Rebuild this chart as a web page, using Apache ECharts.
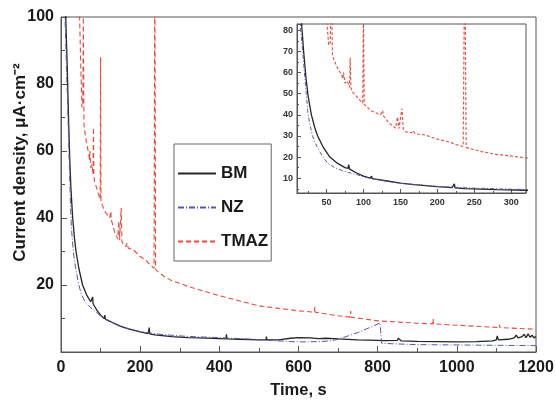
<!DOCTYPE html>
<html>
<head>
<meta charset="utf-8">
<script src="https://cdn.jsdelivr.net/npm/echarts@6/dist/echarts.min.js"></script>
<style>
  html, body { margin: 0; padding: 0; background: #fff; }
  #main { width: 556px; height: 402px; }
</style>
</head>
<body>
<div id="main"></div>
<script>
// time, s
var bmT = [8, 12, 16, 19, 22, 25, 29.5, 34, 38, 45, 54.5, 65, 75, 79, 80, 81, 90, 100, 109, 111, 112, 130, 150, 168, 200, 220, 223, 224, 237, 280, 320, 350, 400, 417, 418, 419, 450, 500, 518, 519, 520, 550, 580, 600, 630, 650, 670, 700, 750, 800, 820, 850, 852, 860, 900, 950, 1000, 1050, 1090, 1100, 1102, 1105, 1130, 1145, 1150, 1155, 1165, 1170, 1175, 1180, 1185, 1190, 1195, 1200];
var bmI = [115, 100, 84, 70, 58, 49, 40, 34, 30, 25, 20, 17, 15, 14.7, 16.4, 14.4, 12.6, 11, 10, 11, 9.8, 8.8, 7.7, 7, 6, 5.5, 7.3, 5.4, 5.1, 4.6, 4.3, 4.2, 4.0, 3.9, 5.3, 3.9, 3.8, 3.6, 3.6, 4.6, 3.6, 3.6, 4.1, 4.3, 4.2, 4.0, 4.1, 3.9, 3.6, 3.5, 3.4, 3.5, 4.1, 3.3, 3.2, 3.1, 3.0, 3.1, 3.3, 3.6, 4.8, 3.6, 3.8, 4.2, 5.0, 4.2, 4.6, 5.3, 4.3, 5.4, 4.4, 5.0, 4.2, 4.7];

var nzT = [5, 10, 14, 17.7, 20, 22.5, 24.5, 27, 31, 37, 45, 52, 61, 70, 80, 90, 102, 120, 150, 200, 250, 300, 350, 400, 450, 500, 550, 600, 650, 680, 700, 750, 790, 806, 810, 850, 900, 1000, 1100, 1200];
var nzI = [115, 100, 84, 70, 60, 50, 42, 36, 30, 25, 20, 17, 15, 13.8, 12.7, 11.8, 10.5, 9.2, 7.6, 6.1, 5.3, 4.8, 4.5, 4.3, 4.0, 3.7, 3.3, 3.0, 3.1, 3.3, 3.8, 5.8, 7.8, 8.7, 2.6, 2.4, 2.2, 2.1, 2.0, 1.9];

var tmazT = [45, 50, 53, 55, 56.5, 58, 60, 65, 70.5, 72, 73, 75, 78, 81, 82, 83, 84.5, 90, 95, 99, 100, 101, 110, 123, 126, 127, 135, 143.5, 146, 148, 152, 154, 157, 165, 167, 170, 182, 200, 214, 225, 235, 237, 239, 245, 260, 280, 305, 320, 400, 500, 600, 640, 641, 642, 700, 731, 732, 733, 800, 900, 939, 940, 941, 1000, 1107, 1108, 1109, 1200];
var tmazI = [110, 85, 73, 74, 100, 68, 66, 62, 59, 57, 60, 55, 56, 53, 67, 53, 51, 49, 47, 45.6, 88, 45, 42, 40, 42, 39.5, 36, 33.7, 39, 33.4, 43, 33, 32, 31.5, 32.5, 31, 30.6, 28.5, 27.4, 26, 25, 120, 24.6, 24, 22.6, 21.3, 20.3, 19.6, 16.8, 13.8, 12.3, 11.9, 13.4, 11.9, 10.8, 10.4, 12.2, 10.4, 9.3, 8.6, 8.4, 9.9, 8.4, 8.0, 7.3, 8.1, 7.3, 6.8];

// tick labels
var mainXTicks = [0, 200, 400, 600, 800, 1000, 1200];
var mainYTicks = [20, 40, 60, 80, 100];
var insetXTicks = [50, 100, 150, 200, 250, 300];
var insetYTicks = [10, 20, 30, 40, 50, 60, 70, 80];

function pairs(t, v) {
    return t.map(function (x, i) { return [x, v[i]]; });
}
var bmData = pairs(bmT, bmI);
var nzData = pairs(nzT, nzI);
var tmazData = pairs(tmazT, tmazI);

var colBM = '#262626', colNZ = '#5458b0', colTMAZ = '#ea4a3c';
var axisCol = '#555';
var font = 'Arial, "Liberation Sans", sans-serif';

function line(name, data, color, type, xi, width) {
    return {
        name: name, type: 'line', data: data,
        xAxisIndex: xi, yAxisIndex: xi,
        symbol: 'none', animation: false, silent: true,
        lineStyle: { color: color, width: width, type: type },
        itemStyle: { color: color }
    };
}

var myChart = echarts.init(document.getElementById('main'));
myChart.setOption({
    backgroundColor: '#fff',
    textStyle: { fontFamily: font },
    legend: {
        data: ['BM', 'NZ', 'TMAZ'],
        orient: 'vertical',
        left: 174, top: 144,
        padding: [21, 3, 11, 3],
        itemGap: 17, itemWidth: 38, itemHeight: 14,
        itemStyle: { opacity: 0 },
        borderColor: '#666', borderWidth: 1,
        textStyle: { fontSize: 17, fontWeight: 'bold', color: '#1a1a1a', fontFamily: font }
    },
    grid: [
        { left: 61, right: 20, top: 17, bottom: 50, show: true, borderColor: axisCol, borderWidth: 1, outerBoundsMode: 'none', containLabel: false },
        { left: 297, right: 30, top: 24, bottom: 209, show: true, borderColor: axisCol, borderWidth: 1, outerBoundsMode: 'none', containLabel: false }
    ],
    xAxis: [{
        type: 'value', gridIndex: 0, min: 0, max: 1200, interval: 200,
        name: 'Time, s', nameLocation: 'middle', nameGap: 30, nameMoveOverlap: false,
        nameTextStyle: { fontSize: 16.5, fontWeight: 'bold', color: '#1a1a1a', fontFamily: font },
        axisLine: { lineStyle: { color: axisCol } },
        axisTick: { inside: true, length: 6, lineStyle: { color: axisCol } },
        minorTick: { show: true, splitNumber: 2, length: 4, lineStyle: { color: axisCol } },
        splitLine: { show: false },
        axisLabel: {
            margin: 8, fontSize: 16, fontWeight: 'bold', color: '#1a1a1a', fontFamily: font,
            formatter: function (v) { return mainXTicks.indexOf(v) >= 0 ? String(v) : ''; }
        }
    }, {
        type: 'value', gridIndex: 1, min: 10, max: 320, splitNumber: 6,
        axisLine: { lineStyle: { color: axisCol } },
        axisTick: { inside: true, length: 4, lineStyle: { color: axisCol } },
        minorTick: { show: true, splitNumber: 2, length: 2, lineStyle: { color: axisCol } },
        splitLine: { show: false },
        axisLabel: {
            margin: 5, fontSize: 9, fontWeight: 'bold', color: '#333', fontFamily: font,
            showMinLabel: false, showMaxLabel: false,
            formatter: function (v) { return insetXTicks.indexOf(v) >= 0 ? String(v) : ''; }
        }
    }],
    yAxis: [{
        type: 'value', gridIndex: 0, min: 0, max: 100, interval: 20,
        name: 'Current density, μA·cm⁻²', nameLocation: 'middle', nameGap: 32, nameMoveOverlap: false,
        nameTextStyle: { fontSize: 17, fontWeight: 'bold', color: '#1a1a1a', fontFamily: font, padding: [0, 0, 0, 44] },
        axisLine: { lineStyle: { color: axisCol } },
        axisTick: { inside: true, length: 6, lineStyle: { color: axisCol } },
        minorTick: { show: true, splitNumber: 2, length: 4, lineStyle: { color: axisCol } },
        splitLine: { show: false },
        axisLabel: {
            margin: 7, fontSize: 16, fontWeight: 'bold', color: '#1a1a1a', fontFamily: font,
            formatter: function (v) { return mainYTicks.indexOf(v) >= 0 ? String(v) : ''; }
        }
    }, {
        type: 'value', gridIndex: 1, min: 3, max: 83, splitNumber: 8,
        axisLine: { lineStyle: { color: axisCol } },
        axisTick: { inside: true, length: 4, lineStyle: { color: axisCol } },
        minorTick: { show: true, splitNumber: 2, length: 2, lineStyle: { color: axisCol } },
        splitLine: { show: false },
        axisLabel: {
            margin: 4, fontSize: 9, fontWeight: 'bold', color: '#333', fontFamily: font,
            showMinLabel: false, showMaxLabel: false,
            formatter: function (v) { return insetYTicks.indexOf(v) >= 0 ? String(v) : ''; }
        }
    }],
    series: [
        line('BM', bmData, colBM, 'solid', 0, 1.3),
        line('NZ', nzData, colNZ, [6, 2, 1, 2], 0, 1),
        line('TMAZ', tmazData, colTMAZ, [5, 3], 0, 1.1),
        line('BM', bmData, colBM, 'solid', 1, 1.3),
        line('NZ', nzData, colNZ, [4, 2, 1, 2], 1, 1),
        line('TMAZ', tmazData, colTMAZ, [3, 2], 1, 1.1)
    ]
});
</script>
</body>
</html>
